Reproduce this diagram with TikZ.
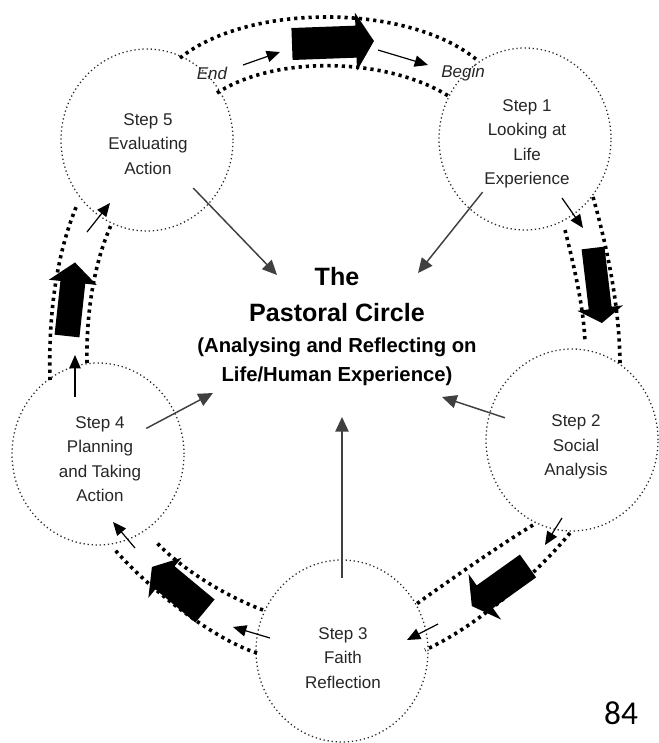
\documentclass[tikz,border=0pt]{standalone}
\usepackage{fontspec}
\setmainfont{Liberation Sans}
\newfontfamily\pagenumfont{Carlito}
\usepackage{tikz}
\usetikzlibrary{arrows.meta}
\usetikzlibrary{shapes.geometric}

\begin{document}
\begin{tikzpicture}[x=0.75pt,y=0.75pt,yscale=-1,xscale=1,
  stepcircle/.style={draw=black!85, ellipse, line width=0.95pt, dash pattern=on 0.95pt off 2.1pt, minimum width=129pt, minimum height=136.5pt, inner sep=0pt},
  steptext/.style={align=center, text=black!85, inner sep=0pt, font=\fontsize{12.75}{18.3}\selectfont},
  band/.style={line width=2.7pt, dash pattern=on 2.4pt off 3pt},
  ray/.style={draw=black!75, line width=1.1pt, -{Triangle[length=11pt,width=10pt]}},
  flow/.style={line width=0.9pt, -{Triangle[length=10pt,width=8.5pt]}}]
\path[use as bounding box] (0,0) rectangle (659,743);

%Shape: Ellipse
\node[stepcircle] (s5) at (147,140) {};
\node[stepcircle] (s1) at (525,139) {};
\node[stepcircle] (s2) at (572,440) {};
\node[stepcircle] (s3) at (342,651) {};
\node[stepcircle] (s4) at (98,454) {};

% Text Node
\node[steptext] (s5text) at (148,144) {Step 5\\Evaluating\\Action};
% Text Node
\node[steptext] (s1text) at (527,144) {Step 1\\Looking at\\Life\\Experience};
% Text Node
\node[steptext] (s2text) at (576,447) {Step 2\\Social\\Analysis};
% Text Node
\node[steptext] (s3text) at (343,658) {Step 3\\Faith\\Reflection};
% Text Node
\node[steptext] (s4text) at (100,459) {Step 4\\Planning\\and Taking\\Action};

% Text Node
\node[align=center, inner sep=0pt, font=\fontsize{18.8}{27}\selectfont\bfseries] (title) at (337,295) {The\\Pastoral Circle};
% Text Node
\node[align=center, inner sep=0pt, font=\fontsize{15.2}{21.8}\selectfont\bfseries] (subtitle) at (337,362) {(Analysing and Reflecting on\\Life/Human Experience)};

% Text Node
\node[inner sep=0pt, text=black!85, font=\fontsize{12.75}{15}\selectfont\itshape] (endlabel) at (212,73) {End};
% Text Node
\node[inner sep=0pt, text=black!85, font=\fontsize{12.75}{15}\selectfont\itshape] (beginlabel) at (463,73) {Begin};
% Text Node
\node[inner sep=0pt, font=\fontsize{25}{30}\pagenumfont] (pagenum) at (621,713) {84};

%Straight Lines
\coordinate (in5) at (277,275);
\coordinate (in1) at (418,273);
\coordinate (in2) at (442,397);
\coordinate (in3) at (342,417);
\coordinate (in4) at (213,393);
\draw[ray, shorten <=50pt] (s5.center) -- (in5);
\draw[ray, shorten <=51pt] (s1.center) -- (in1);
\draw[ray, shorten <=53pt] (s2.center) -- (in2);
\draw[ray, shorten <=55pt] (s3.center) -- (in3);
\draw[ray, shorten <=41pt] (s4.center) -- (in4);

%Curve Lines
\draw[band] (180,58) .. controls (250,2) and (410,4) .. (477,60);
\draw[band] (217,93) .. controls (277,54) and (390,58) .. (450,97);
%Curve Lines
\draw[band] (593,197) .. controls (608,250) and (620,310) .. (620,367);
\draw[band] (565,230) .. controls (575,270) and (584,310) .. (585,343);
%Curve Lines
\draw[band] (533,525) .. controls (500,545) and (450,580) .. (415,605);
\draw[band] (570,533) .. controls (540,570) and (480,625) .. (425,650);
%Curve Lines
\draw[band] (263,610) .. controls (230,598) and (185,572) .. (157,543);
\draw[band] (257,653) .. controls (215,640) and (150,590) .. (115,550);
%Curve Lines
\draw[band] (50,380) .. controls (48,310) and (58,250) .. (77,205);
\draw[band] (87,363) .. controls (86,310) and (95,260) .. (112,223);

%Shape: Block Arrow
\fill[shift={(292,44)}, rotate=-2.1] (0,-16) -- (64,-16) -- (64,-29) -- (82,0) -- (64,29) -- (64,16) -- (0,16) -- cycle;
%Shape: Block Arrow
\fill[shift={(593,248)}, rotate=83.2] (0,-11.5) -- (60.5,-11.5) -- (60.5,-23) -- (75.5,0) -- (60.5,23) -- (60.5,11.5) -- (0,11.5) -- cycle;
%Shape: Block Arrow
\fill[shift={(528,566)}, rotate=144.5] (0,-14) -- (53,-14) -- (53,-28) -- (69,0) -- (53,28) -- (53,14) -- (0,14) -- cycle;
%Shape: Block Arrow
\fill[shift={(205,611)}, rotate=-140.3] (0,-15) -- (52,-15) -- (52,-26) -- (69,0) -- (52,26) -- (52,15) -- (0,15) -- cycle;
%Shape: Block Arrow
\fill[shift={(67,336)}, rotate=-83.8] (0,-12.5) -- (54,-12.5) -- (54,-24) -- (74,0) -- (54,24) -- (54,12.5) -- (0,12.5) -- cycle;

%Straight Lines
\draw[flow] (243,65) -- (280,52);
\draw[flow] (378,50) -- (428,65);
\draw[flow] (562,198) -- (583,228);
\draw[flow] (562,518) -- (545,545);
\draw[flow] (438,624) -- (407,640);
\draw[flow] (270,638) -- (233,627);
\draw[flow] (135,548) -- (113,522);
\draw[flow] (75,397) -- (75,355);
\draw[flow] (87,232) -- (110,203);

\end{tikzpicture}
\end{document}
